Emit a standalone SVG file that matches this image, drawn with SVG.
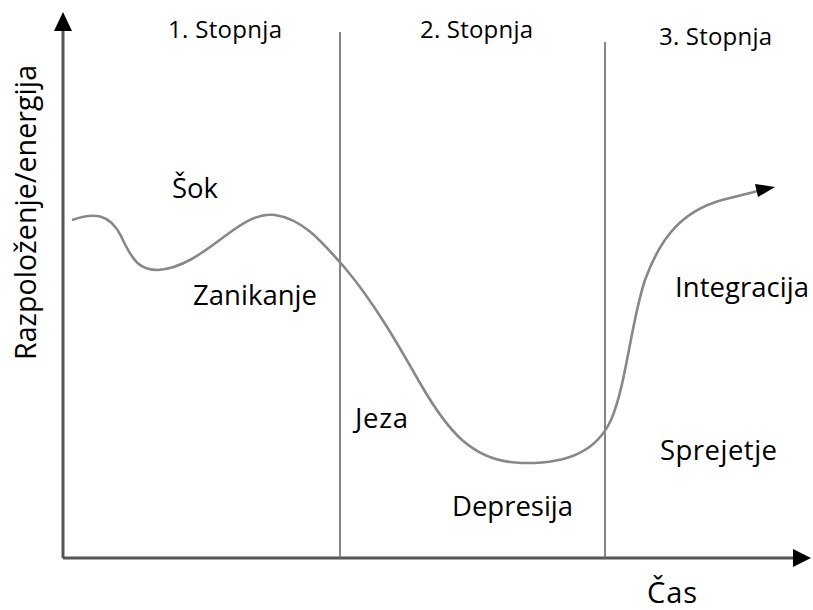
<svg xmlns="http://www.w3.org/2000/svg" width="813" height="610" viewBox="0 0 813 610">
<style>
text { font-family: "Open Sans", "Liberation Sans", sans-serif; fill: #000; }
.lbl { font-size: 27.5px; }
.stage { font-size: 24px; }
.axis { stroke: #555; stroke-width: 3; fill: none; }
.div { stroke: #777; stroke-width: 1.8; fill: none; }
.curve { stroke: #888; stroke-width: 2.6; fill: none; }
</style>
<rect width="813" height="610" fill="#fff"/>
<g id="connectors">
<line class="axis" x1="63" y1="558" x2="63" y2="28"/>
<polygon points="63,12 54,31 72,31" fill="#000"/>
<line class="axis" x1="63" y1="558" x2="794" y2="558"/>
<polygon points="811,558 793,549 793,567" fill="#000"/>
<line class="div" x1="340" y1="32" x2="340" y2="558"/>
<line class="div" x1="605" y1="42" x2="605" y2="558"/>
<path class="curve" d="M72,220 C95,212 110,214 121,236 C133,262 140,270 158,270 C205,267 238,210 275,215 C303,219 322,242 345,268 C376,305 400,348 420,383 C447,430 472,462 522,463 C570,464 597,450 611,420 C626,386 631,322 645,280 C661,236 683,211 722,200 L758,191"/>
<polygon points="775,187 755,184 758,197" fill="#000"/>
</g>
<g id="stage1"><text class="stage" x="168" y="38" textLength="114">1. Stopnja</text></g>
<g id="stage2"><text class="stage" x="420" y="38" textLength="113">2. Stopnja</text></g>
<g id="stage3"><text class="stage" x="659" y="45" textLength="113">3. Stopnja</text></g>
<g id="sok"><text class="lbl" x="172" y="198" textLength="46">Šok</text></g>
<g id="zanikanje"><text class="lbl" x="193" y="305" textLength="124">Zanikanje</text></g>
<g id="jeza"><text class="lbl" x="355" y="428" textLength="53">Jeza</text></g>
<g id="depresija"><text class="lbl" x="452" y="516" textLength="121">Depresija</text></g>
<g id="sprejetje"><text class="lbl" x="660" y="460" textLength="117">Sprejetje</text></g>
<g id="integracija"><text class="lbl" x="675" y="297" textLength="134">Integracija</text></g>
<g id="cas"><text x="647" y="603" textLength="50" style="font-size:29px">Čas</text></g>
<g id="ylabel"><text x="0" y="0" transform="translate(36,360) rotate(-90)" textLength="295" style="font-size:28.5px">Razpoloženje/energija</text></g>
</svg>
